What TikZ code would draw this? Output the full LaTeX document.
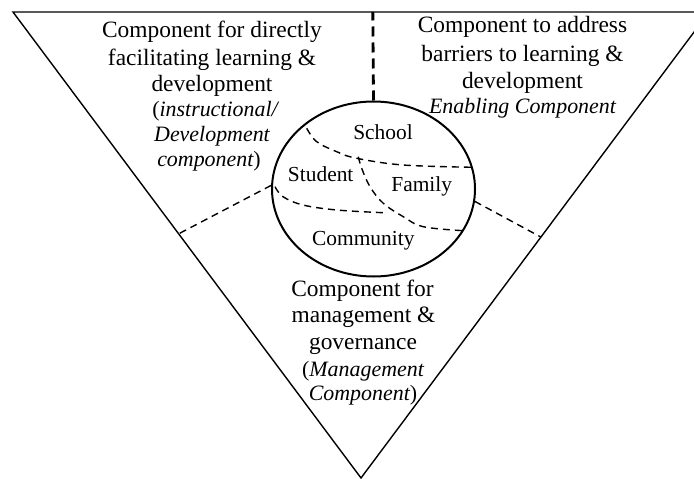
\documentclass[tikz,border=0pt]{standalone}
\usepackage{fontspec}
\setmainfont{Liberation Serif}
\usetikzlibrary{calc,shapes.geometric}
\begin{document}
\begin{tikzpicture}[x=1bp,y=-1bp,
  edge/.style={line width=1.4bp, line join=miter},
  part/.style={line width=1.4bp, dash pattern=on 7bp off 5bp},
  mainpart/.style={line width=2.8bp, dash pattern=on 10bp off 6bp},
  lbl/.style={inner sep=0, anchor=base, font=\fontsize{23.5}{27}\selectfont},
  ilbl/.style={lbl, font=\fontsize{22}{25}\selectfont\itshape},
  inlbl/.style={inner sep=0, anchor=center, font=\fontsize{21.5}{24}\selectfont}]
\useasboundingbox (0,0) rectangle (694,479);
\clip (0,0) rectangle (694,479);

% outer inverted triangle
\coordinate (L) at (13,12);
\coordinate (R) at (709,12);
\coordinate (A) at (361,478);
\draw[edge] (L) -- (R) -- (A) -- cycle;

% central ellipse
\node[draw, ellipse, line width=2bp, minimum width=203bp, minimum height=175bp, inner sep=0] (e) at (373.5,189) {};

% points where the dividing lines meet the triangle
\coordinate (top) at ($(L)!0.517!(R)$);
\coordinate (lw) at ($(L)!0.476!(A)$);
\coordinate (rw) at ($(R)!0.483!(A)$);

% dividing lines between the three components
\draw[mainpart] (e.north) -- (top);
\draw[part] (e.178) -- (lw);
\draw[part] (e.353) -- (rw);

% areas inside the ellipse
\draw[part] plot[smooth, tension=0.6] coordinates {(306.7,128.3) (316.7,141.7) (336.7,151.7) (356.7,158.3) (403,165) (473.5,167.3)};
\draw[part] plot[smooth, tension=0.6] coordinates {(275,186.7) (283,196.7) (303,205) (336.7,210) (383,212.7)};
\draw[part] plot[smooth, tension=0.6] coordinates {(358.3,156.7) (361.7,168.3) (370,186.7) (383.3,203.3) (403.3,216.7) (423.3,226.7) (463.3,230.7)};

\node[inlbl] (school) at (383,131.7) {School};
\node[inlbl] (student) at (320.7,174) {Student};
\node[inlbl] (family) at (421.7,186.7) {Family};
\node[inlbl] (community) at (363.3,240.7) {Community};

% instructional component
\node[lbl] (tl1) at (212,38) {Component for directly};
\node[lbl] (tl2) at (212,66) {facilitating learning \&};
\node[lbl] (tl3) at (212,92) {development};
\node[ilbl] (tl4) at (215,117) {\upshape(\itshape instructional/};
\node[ilbl] (tl5) at (212,142) {Development};
\node[ilbl] (tl6) at (209,167) {component\upshape)};

% enabling component
\node[lbl] (tr1) at (522.5,33) {Component to address};
\node[lbl] (tr2) at (522.5,62) {barriers to learning \&};
\node[lbl] (tr3) at (522.5,89) {development};
\node[ilbl] (tr4) at (522.5,114) {Enabling Component};

% management component
\node[lbl] (b1) at (362.5,296.7) {Component for};
\node[lbl] (b2) at (363.5,322) {management \&};
\node[lbl] (b3) at (363,349) {governance};
\node[ilbl] (b4) at (363,376) {\upshape(\itshape Management};
\node[ilbl] (b5) at (363,400) {Component\upshape)};
\end{tikzpicture}
\end{document}
